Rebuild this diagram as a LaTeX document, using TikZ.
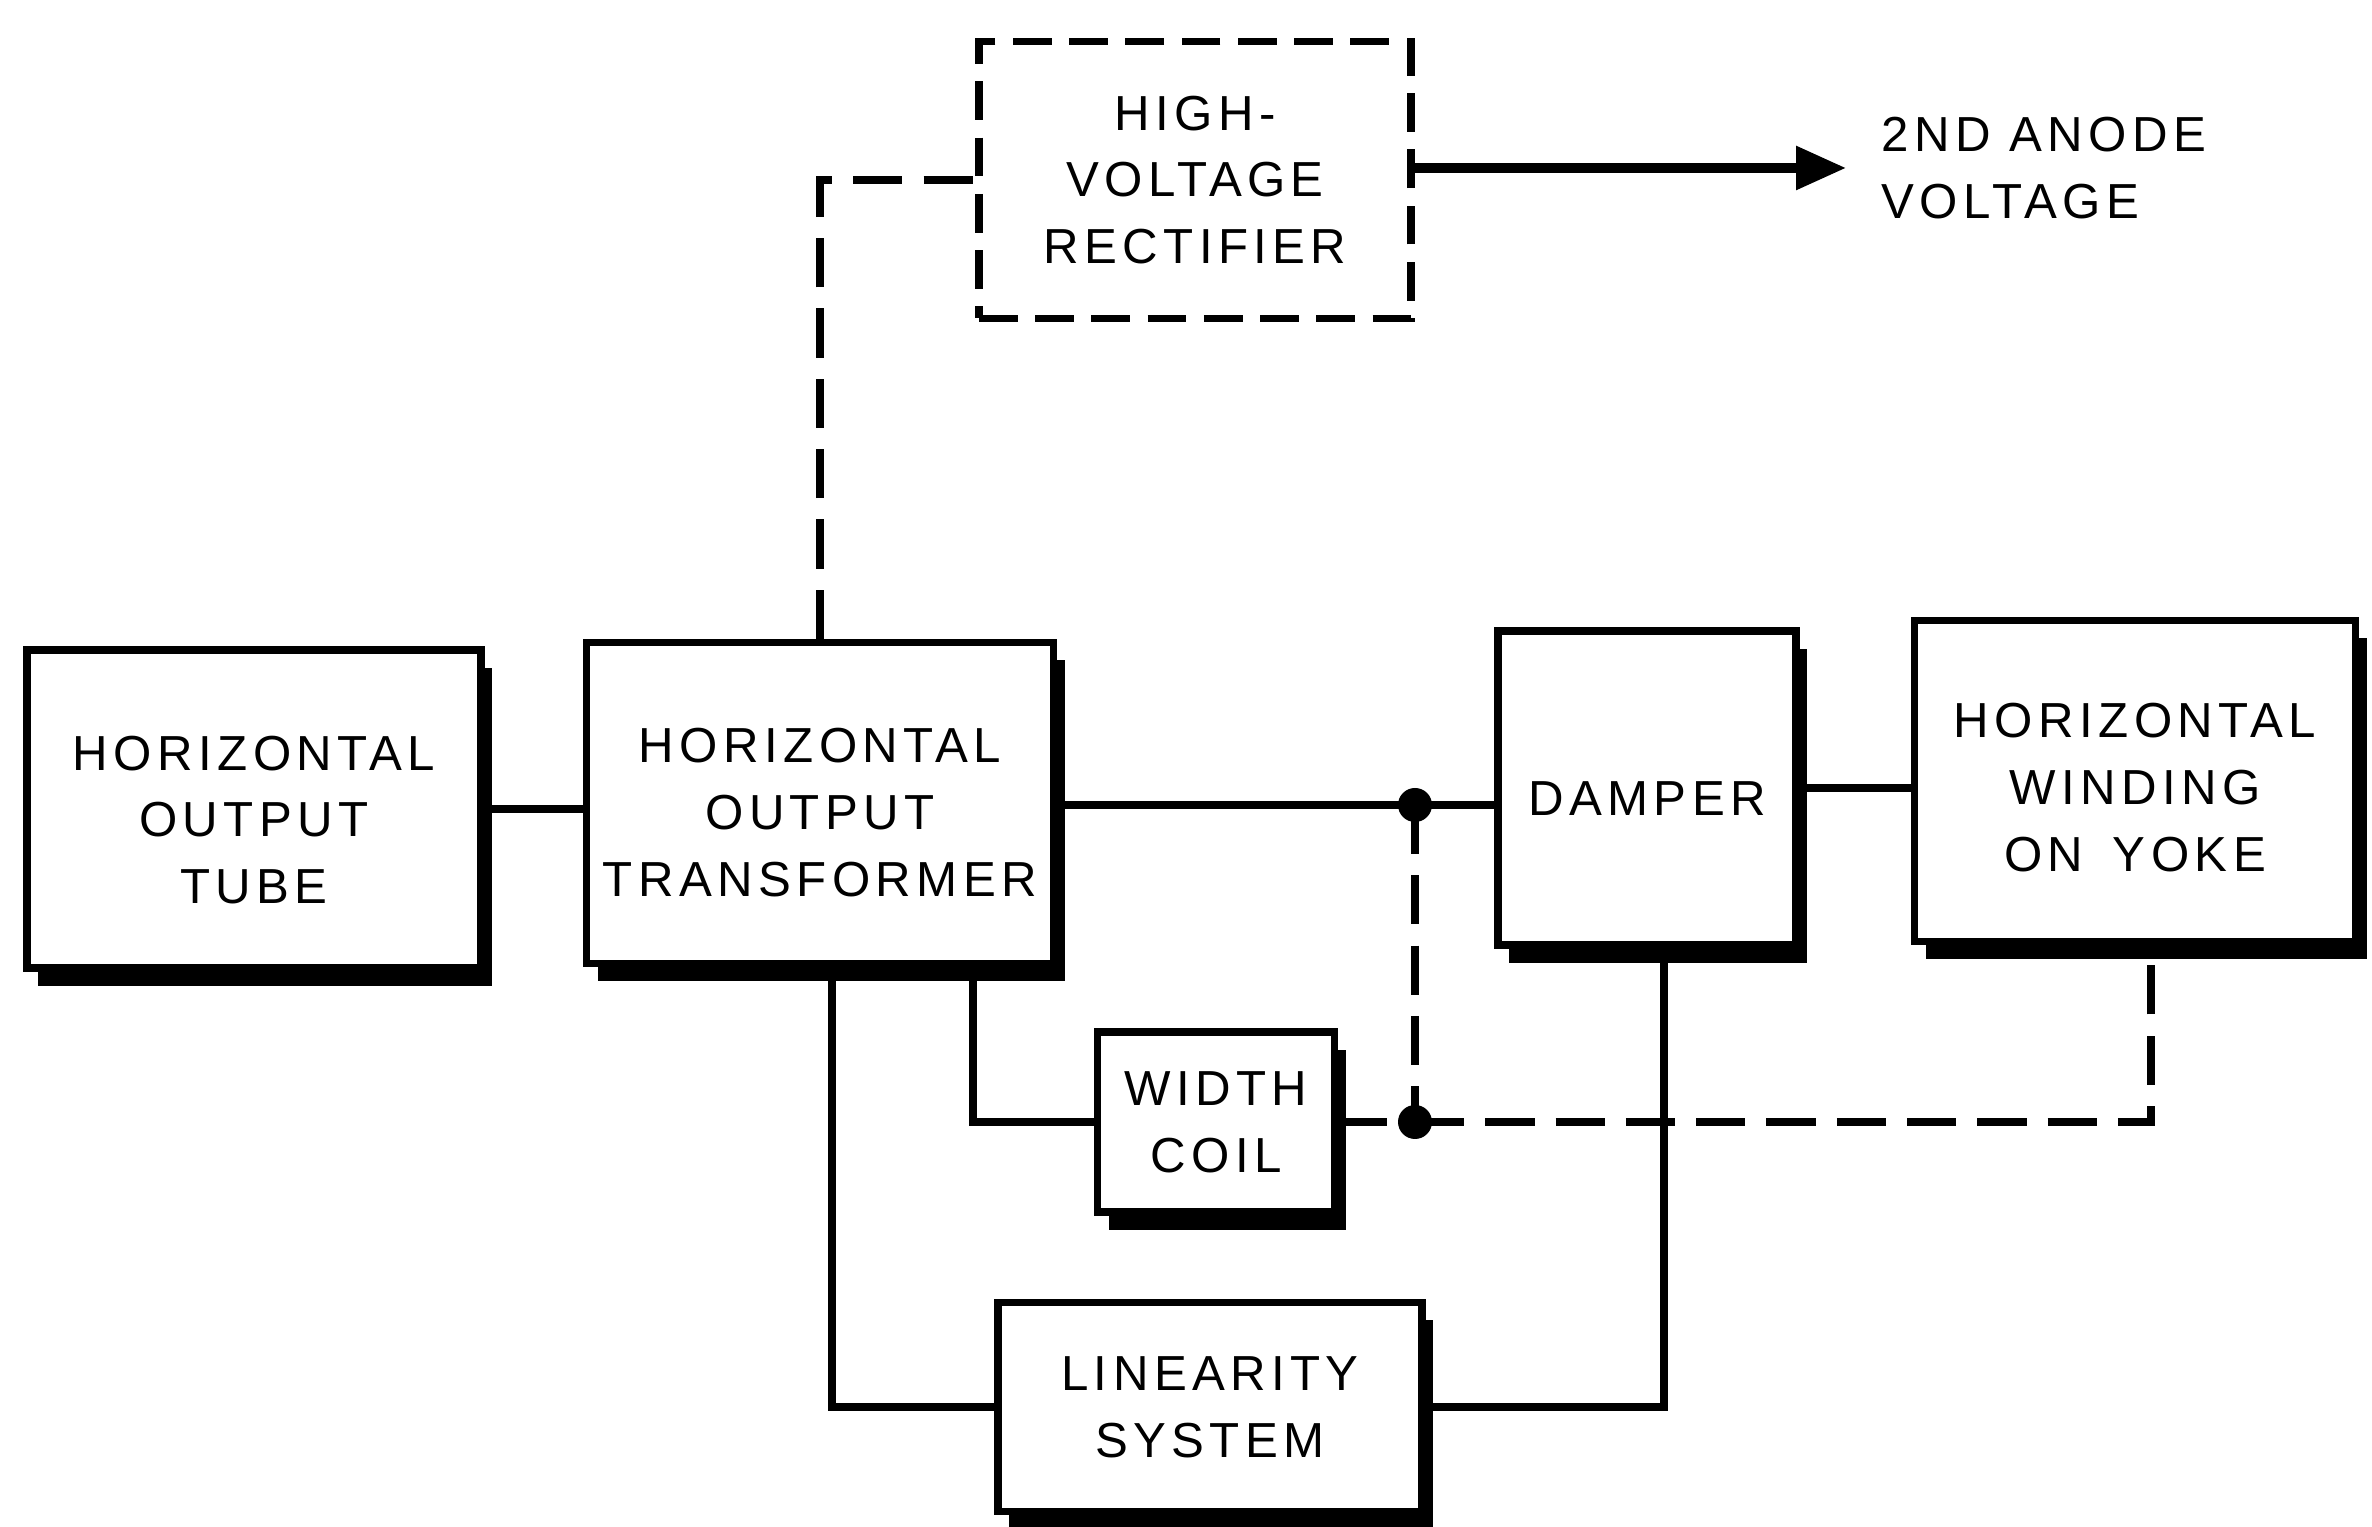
\documentclass[tikz,border=0pt]{standalone}
\usepackage{fontspec}
\newfontfamily\lettering[LetterSpace=11]{Liberation Sans}
\usetikzlibrary{calc}
\usetikzlibrary{shadows}
\usetikzlibrary{arrows.meta}

\begin{document}
\begin{tikzpicture}[line width=2.1pt,
    every node/.style={font=\lettering\fontsize{14pt}{19pt}\selectfont, align=center},
    block/.style={draw, fill=white, inner sep=0pt,
        drop shadow={shadow xshift=0.11cm, shadow yshift=-0.18cm, fill=black, opacity=1}},
    bigblock/.style={block, text height=#1},
    longdash/.style={dash pattern=on 14pt off 6pt}]

    \useasboundingbox (0,0) rectangle (23.72,15.27);

    % ---- Blocks ----
    \node [bigblock=1.90cm, minimum width=4.54cm, minimum height=3.18cm] (tube) at (2.54, 7.18) {HORIZONTAL\\OUTPUT\\TUBE};
    \node [bigblock=1.87cm, minimum width=4.67cm, minimum height=3.21cm] (trans) at (8.20, 7.24) {HORIZONTAL\\OUTPUT\\TRANSFORMER};
    \node [bigblock=0.55cm, minimum width=2.98cm, minimum height=3.14cm] (damp) at (16.47, 7.39) {DAMPER};
    \node [bigblock=1.81cm, minimum width=4.41cm, minimum height=3.21cm] (yoke) at (21.35, 7.46) {HORIZONTAL\\WINDING\\ON\hspace{0.6em}YOKE};
    \node [block, minimum width=2.37cm, minimum height=1.80cm] (wc) at (12.16, 4.05) {WIDTH\\COIL};
    \node [block, minimum width=4.24cm, minimum height=2.09cm] (lin) at (12.10, 1.20) {LINEARITY\\SYSTEM};

    % high voltage part
    \node [draw, dash pattern=on 11pt off 5pt, inner sep=0pt, minimum width=4.32cm, minimum height=2.77cm] (hv) at (11.95, 13.47) {HIGH-\\VOLTAGE\\RECTIFIER};
    \node [anchor=west, align=left] (anode) at (18.66, 13.59) {2ND ANODE\\VOLTAGE};

    % Junctions
    \coordinate (j1) at (14.15, 7.22);
    \coordinate (j2) at (14.15, 4.05);

    % ---- Solid connections ----
    \draw (tube.east) -- (tube.east -| trans.west);
    \draw (trans.east |- j1) -- (j1) -- (j1 -| damp.west);
    \draw (damp.east) -- (damp.east -| yoke.west);
    \draw ($(trans.south)+(1.53,0)$) |- (wc.west);
    \draw ($(trans.south)+(0.12,0)$) |- (lin.west);
    \draw (lin.east) -| ($(damp.south)+(0.17,0)$);

    % output arrow
    \draw [-{Triangle[length=0.5cm, width=0.42cm]}, line width=2.6pt, shorten >=0.2cm] (hv.east |- anode.west) -- (anode.west);

    % ---- Dashed connections ----
    \draw [longdash] (trans.north) |- (hv.west);
    \draw [longdash] (j1) -- (j2);
    \draw [longdash] (wc.east) -- (j2);
    \draw [longdash] (j2) -| ($(yoke.south)+(0.16,0)$);

    % junction dots
    \fill (j1) circle [radius=0.17];
    \fill (j2) circle [radius=0.17];

\end{tikzpicture}
\end{document}
